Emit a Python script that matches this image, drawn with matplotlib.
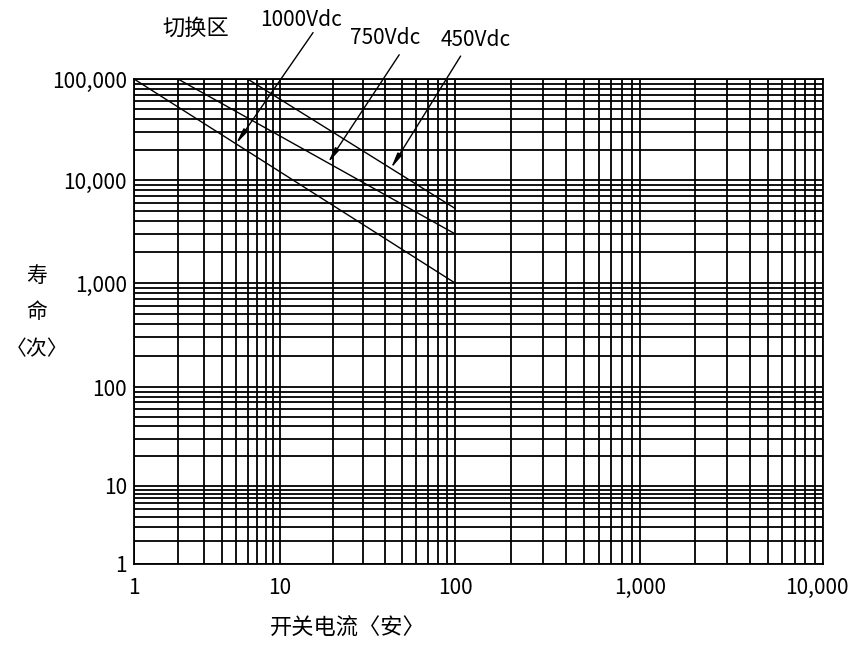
import numpy as np
import matplotlib.pyplot as plt
import matplotlib.transforms as mtransforms
from matplotlib.ticker import FixedLocator, LogLocator, NullFormatter

plt.rcParams['font.family'] = ['Noto Sans CJK SC', 'DejaVu Sans']

# switching curves: current (A) vs life (operations)
curve_names = ['1000Vdc', '750Vdc', '450Vdc']
curve_x = [[1, 100], [2, 100], [6, 100]]
curve_y = [[100000, 1000], [100000, 3000], [100000, 5300]]
# current where each label's leader arrow touches its curve
arrow_x = [5, 18.8, 43]

x_ticks = [1, 10, 100, 1000, 10000]
x_labels = ['1', '10', '100', '1,000', '10,000']
y_ticks = [1, 10, 100, 1000, 10000, 100000]
y_labels = ['1', '10', '100', '1,000', '10,000', '100,000']

# the printed chart's decades are not all the same width,
# so use a piecewise log scale (decade -> relative length)
x_dec = [0, 1, 2, 3, 4]
x_len = [0, 146, 321, 506, 689]
y_dec = [0, 1, 2, 3, 4, 5]
y_len = [0, 78, 177, 281, 384, 485]


def make_scale(dec, lens):
    def fwd(v):
        v = np.log10(np.clip(np.asarray(v, dtype=float), 1e-12, None))
        return np.interp(v, dec, lens)

    def inv(p):
        return 10 ** np.interp(np.asarray(p, dtype=float), lens, dec)
    return fwd, inv


fig = plt.figure(figsize=(8.53, 6.52), dpi=100)
ax = fig.add_axes([134 / 853, 1 - 564 / 652, 689 / 853, 485 / 652])
ax.set_xscale('function', functions=make_scale(x_dec, x_len))
ax.set_yscale('function', functions=make_scale(y_dec, y_len))
ax.set_xlim(1, 10000)
ax.set_ylim(1, 100000)

ax.xaxis.set_major_locator(FixedLocator(x_ticks))
ax.yaxis.set_major_locator(FixedLocator(y_ticks))
ax.set_xticklabels(x_labels)
ax.set_yticklabels(y_labels)
ax.xaxis.set_minor_locator(LogLocator(base=10, subs=range(2, 10)))
ax.yaxis.set_minor_locator(LogLocator(base=10, subs=range(2, 10)))
ax.xaxis.set_minor_formatter(NullFormatter())
ax.yaxis.set_minor_formatter(NullFormatter())
ax.tick_params(which='both', length=0, labelsize=15)
ax.tick_params(axis='x', pad=9)
ax.tick_params(axis='y', pad=5)

# keep "10,000" inside the figure
last = ax.get_xticklabels()[-1]
last.set_horizontalalignment('right')
last.set_transform(last.get_transform() + mtransforms.ScaledTranslation(26 / 100, 0, fig.dpi_scale_trans))

ax.grid(which='both', color='black', linewidth=1.3)
for s in ax.spines.values():
    s.set_linewidth(1.3)

for xs, ys in zip(curve_x, curve_y):
    ax.plot(xs, ys, color='black', linewidth=1.0)

# labels above the plot with leader arrows down to the curves
text_pos = [(0.353, 0.969), (0.451, 0.942), (0.558, 0.939)]
leader_start = [(0.367, 0.950), (0.468, 0.916), (0.540, 0.914)]
for i, name in enumerate(curve_names):
    # point on the (straight on screen) curve at the arrow's x
    p = ax.transData.transform(np.column_stack([curve_x[i], curve_y[i]]))
    tx = ax.transData.transform((arrow_x[i], 1))[0]
    ty = np.interp(tx, p[:, 0], p[:, 1])
    tip = ax.transData.inverted().transform((tx, ty))
    ax.annotate('', xy=tip, xytext=leader_start[i], textcoords='figure fraction',
                arrowprops=dict(arrowstyle='-|>,head_length=0.9,head_width=0.15',
                                color='black', lw=1.0, shrinkA=0, shrinkB=0))
    fig.text(text_pos[i][0], text_pos[i][1], name, fontsize=15, ha='center', va='center')

fig.text(0.230, 0.957, '切换区', fontsize=16, ha='center', va='center')
fig.text(0.043, 0.521, '寿\n命\n〈次〉', fontsize=15, ha='center', va='center',
         linespacing=1.85)
fig.text(0.408, 0.037, '开关电流〈安〉', fontsize=16, ha='center', va='center')

fig.savefig('out.png', dpi=100)
